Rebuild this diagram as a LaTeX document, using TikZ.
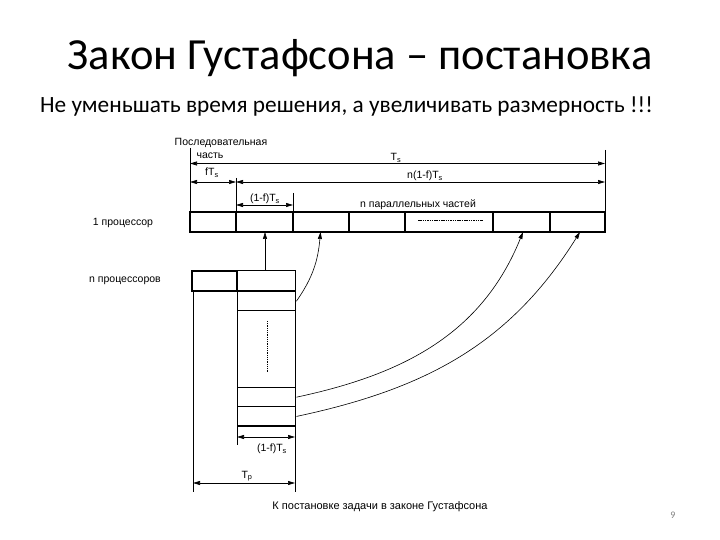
\documentclass[tikz,border=0pt]{standalone}
\usepackage{fontspec}
\setmainfont{Liberation Sans}
\newfontfamily\titlefont{Carlito}
\usetikzlibrary{arrows.meta}
\begin{document}
\begin{tikzpicture}[x=1pt,y=1pt,
  box/.style={draw, line width=1.4pt},
  dim/.style={line width=0.7pt, {Triangle[length=7pt,width=4pt]}-{Triangle[length=7pt,width=4pt]}},
  tick/.style={line width=0.7pt},
  conn/.style={line width=0.6pt, -{Triangle[length=7pt,width=4pt]}},
  lbl/.style={inner sep=0pt, font=\fontsize{10.5}{12}\selectfont},
  cell/.style={draw, line width=1.4pt, inner sep=0pt, minimum height=20pt}]
\useasboundingbox (0,0) rectangle (720,540);
% titles
\node[anchor=base, font=\titlefont\fontsize{44.5}{48}\selectfont] (title) at (360,470) {Закон Густафсона – постановка};
\node[anchor=base, font=\titlefont\fontsize{23.3}{26}\selectfont] (sub) at (346.5,427) {Не уменьшать время решения, а увеличивать размерность !!!};
% top row of cells
\foreach \a/\b/\n in {190/236/c1,236/293/c2,293/349/c3,349/405/c4,405/493/c5,493/550/c6,550/605/c7}{
  \draw[box] (\a,308) rectangle (\b,328);
  \coordinate (\n) at ({(\a+\b)/2},308);
}
\draw[line width=0.8pt, dash pattern=on 1.5pt off 0.8pt] (418,320) -- (483,320);
% ticks top
\coordinate (tl) at (190,392); \coordinate (tlb) at (190,328);
\coordinate (tr) at (605,390); \coordinate (trb) at (605,328);
\draw[tick] (tl) -- (tlb);
\draw[tick] (tr) -- (trb);
\draw[tick] (236,362) -- (236,328);
\draw[tick] (293,347) -- (293,328);
\coordinate (tsL) at (190,376.5); \coordinate (tsR) at (605,376.5);
\draw[dim] (tsL) -- (tsR);
\coordinate (fL) at (190,358); \coordinate (fR) at (236,358); \coordinate (nR) at (605,358);
\draw[dim] (fL) -- (fR);
\draw[dim] (fR) -- (nR);
\coordinate (pL) at (236,335); \coordinate (pR) at (293,335);
\draw[dim] (pL) -- (pR);
\node[lbl] (l1) at (221,397) {Последовательная};
\node[lbl] (l2) at (210,384) {часть};
\node[lbl] (l3) at (396,382) {T$_\mathrm{s}$};
\node[lbl] (l4) at (212,367) {fT$_\mathrm{s}$};
\node[lbl] (l5) at (425,364) {n(1-f)T$_\mathrm{s}$};
\node[lbl] (l6) at (265,341) {(1-f)T$_\mathrm{s}$};
\node[lbl] (l7) at (418,335) {n параллельных частей};
\node[lbl] (l8) at (123,317) {1 процессор};
\node[lbl] (l9) at (125,259) {n процессоров};
% lower block
\draw[box] (192,249) rectangle (237,269);
\node[cell, minimum width=58pt, anchor=south west] (r1) at (237,249) {};
\node[cell, minimum width=58pt, minimum height=19pt, anchor=north west] (r2) at (237,249) {};
\node[cell, minimum width=58pt, minimum height=77pt, anchor=north west] (r3) at (237,230) {};
\node[cell, minimum width=58pt, minimum height=19pt, anchor=north west] (r4) at (237,153) {};
\node[cell, minimum width=58pt, minimum height=19.5pt, anchor=north west] (r5) at (237,134) {};
\draw[line width=0.8pt, dash pattern=on 1pt off 0.8pt] (267,219) -- (267,167);
% bottom ticks and dims
\draw[tick] (193,249) -- (193,48);
\draw[tick] (237,114.5) -- (237,95);
\draw[tick] (295,114.5) -- (295,48);
\coordinate (bL) at (237,103); \coordinate (bR) at (295,103);
\draw[dim] (bL) -- (bR);
\coordinate (tpL) at (193,57); \coordinate (tpR) at (295,57);
\draw[dim] (tpL) -- (tpR);
\node[lbl] (l10) at (272,91) {(1-f)T$_\mathrm{s}$};
\node[lbl] (l11) at (247,64) {T$_\mathrm{p}$};
\node[lbl, font=\fontsize{11}{13}\selectfont] (cap) at (380,33) {К постановке задачи в законе Густафсона};
\node[inner sep=0pt, text=gray, font=\titlefont\fontsize{10}{12}\selectfont] (pg) at (673,25) {9};
% connectors
\draw[conn] (r1.north -| 265,0) -- (c2 -| 265,0);
\draw[conn] (r2.east) to[out=55,in=-95] ([xshift=-0.5pt]c3);
\draw[conn] (r4.east) to[out=12,in=-112] ([xshift=1.5pt]c6);
\draw[conn] (r5.east) to[out=12,in=-122] ([xshift=2.5pt]c7);
\end{tikzpicture}
\end{document}
